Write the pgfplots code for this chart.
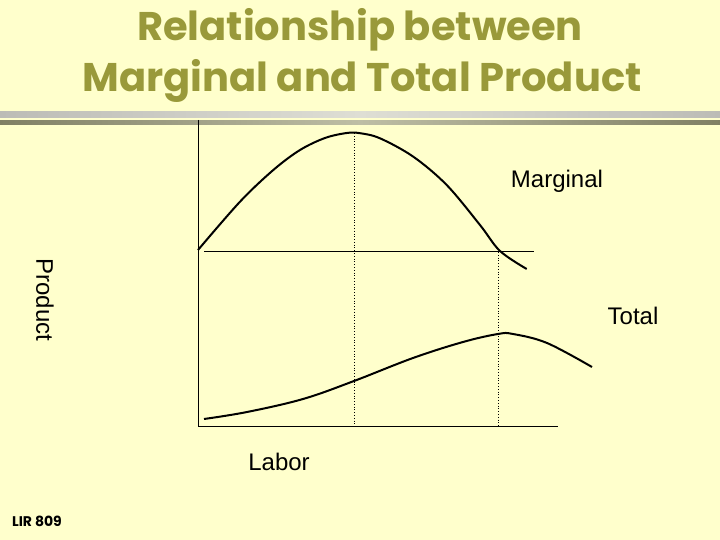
\documentclass[border=0pt]{standalone}
\usepackage{pgfplots}
\pgfplotsset{compat=1.18}
\usepackage{fontspec}
\setmainfont{Liberation Sans}
\newfontfamily\titlefont{Poppins}
\definecolor{bgyellow}{RGB}{255,255,204}
\definecolor{titleol}{RGB}{153,153,58}
\definecolor{bandlightA}{RGB}{188,188,182}
\definecolor{bandlightB}{RGB}{222,222,212}
\definecolor{banddarkA}{RGB}{128,128,100}
\definecolor{banddarkB}{RGB}{190,190,165}
\begin{document}
\begin{tikzpicture}[x=1bp,y=1bp]
\begin{axis}[
  scale only axis, width=720bp, height=540bp,
  xmin=0, xmax=720, ymin=0, ymax=540, y dir=reverse,
  hide axis, clip=false,
]
\fill[bgyellow] (axis cs:0,0) rectangle (axis cs:720,540);
\shade[left color=bandlightA, right color=bandlightA, middle color=bandlightB] (axis cs:0,112) rectangle (axis cs:720,118);
\shade[left color=banddarkA, right color=banddarkA, middle color=banddarkB] (axis cs:0,121) rectangle (axis cs:720,125);
% axes
\addplot[black, line width=1bp] coordinates {(198,120) (198,426)};
\addplot[black, line width=1bp] coordinates {(198,426) (558,426)};
\addplot[black, line width=1bp] coordinates {(204,252) (534,252)};
% dotted lines
\addplot[black, line width=0.8bp, dotted] coordinates {(354,133) (354,426)};
\addplot[black, line width=0.8bp, dotted] coordinates {(498,252) (498,426)};
% marginal
\addplot[black, line width=2bp, smooth, tension=0.55] coordinates {
(198,250) (240,201.7) (273.3,170) (300,150) (325,138) (346.7,133)
(360,133.2) (380,138.3) (413.3,156.7) (446.7,185) (480,225) (500,251) (526.7,269)};
% total
\addplot[black, line width=2bp, smooth, tension=0.6] coordinates {
(204,419) (247,412) (303,399) (354,381) (413,358) (463,342) (498,334)
(513,334) (547,343) (592,367)};
% texts
\node[font=\fontsize{24bp}{28bp}\selectfont] at (axis cs:557,181) {Marginal};
\node[font=\fontsize{24bp}{28bp}\selectfont] at (axis cs:633,316) {Total};
\node[font=\fontsize{24bp}{28bp}\selectfont] at (axis cs:279,462) {Labor};
\node[font=\fontsize{24bp}{28bp}\selectfont, rotate=-90] at (axis cs:45,300) {Product};
\node[font=\titlefont\bfseries\fontsize{14bp}{16bp}\selectfont] at (axis cs:37,521) {LIR 809};
\node[font=\titlefont\bfseries\fontsize{40bp}{48bp}\selectfont, text=titleol, anchor=base, inner sep=0pt] at (axis cs:360,41) {Relationship between};
\node[font=\titlefont\bfseries\fontsize{40bp}{48bp}\selectfont, text=titleol, anchor=base, inner sep=0pt] at (axis cs:362,92) {Marginal and Total Product};
\end{axis}
\end{tikzpicture}
\end{document}
